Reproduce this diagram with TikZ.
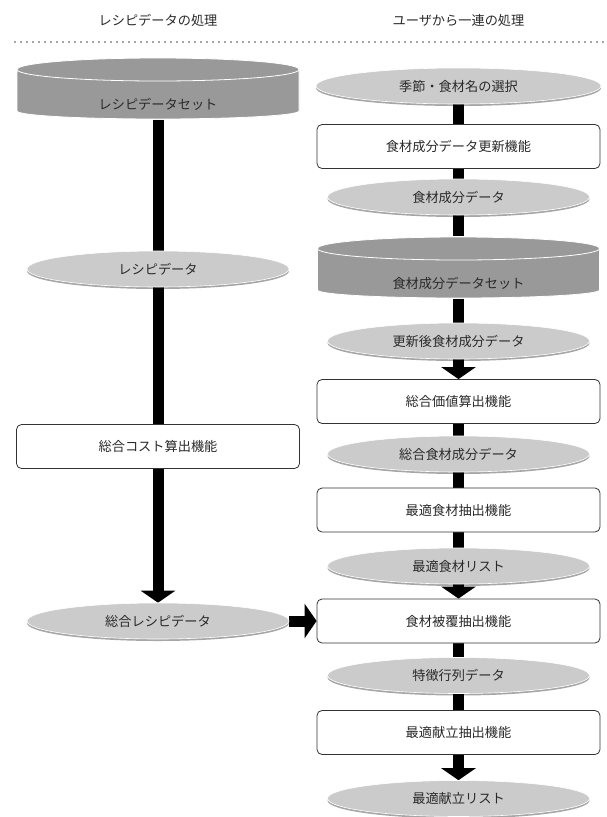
\documentclass[tikz,border=0pt]{standalone}
\usepackage{fontspec}
\newfontfamily\jpfont{Noto Sans CJK JP}
\usepackage{tikz}
\usetikzlibrary{shapes.geometric}
\usetikzlibrary{arrows.meta}
\usetikzlibrary{backgrounds}
\usetikzlibrary{shadows}
\usetikzlibrary{calc}
\definecolor{ellgray}{HTML}{CBCBCB}
\definecolor{dbgray}{HTML}{999999}
\definecolor{txtgray}{HTML}{2A2A2A}

\begin{document}
\begin{tikzpicture}[x=1pt,y=1pt,
 every node/.style={font=\jpfont\fontsize{13.2}{16}\selectfont,text=txtgray},
 proc/.style={rectangle,rounded corners=5pt,draw=black!80,line width=0.8pt,fill=white,
   minimum width=283pt,minimum height=44pt,inner sep=0pt},
 dat/.style={ellipse,fill=ellgray,draw=white,line width=0.6pt,minimum width=262pt,
   minimum height=36pt,inner sep=0pt,
   drop shadow={shadow xshift=0pt,shadow yshift=-2pt,opacity=0.35,fill=black}},
 dbset/.style={minimum width=283pt,minimum height=62pt,inner sep=0pt,
   text height=43pt,text depth=2pt,
   path picture={
    \filldraw[fill=dbgray,draw=white,line width=0.8pt]
     let \p1=(path picture bounding box.north west),\p2=(path picture bounding box.south east),
         \n1={(\x2-\x1)/2-0.5} in
     (\x1+0.5pt,\y1-12pt) -- (\x1+0.5pt,\y2+8.5pt)
     arc[start angle=180,end angle=360,x radius=\n1,y radius=8pt]
     -- (\x2-0.5pt,\y1-12pt) arc[start angle=0,end angle=180,x radius=\n1,y radius=11.5pt]
     -- cycle
     ([yshift=-12pt]path picture bounding box.north) ellipse[x radius=\n1,y radius=11.5pt];
   }},
 flow/.style={line width=11pt},
 flowhead/.style={line width=11pt,-{Triangle[width=34pt,length=12pt]}}]
\useasboundingbox (0,0) rectangle (607,-817);

\node (lhead) at (158,-20) {レシピデータの処理};
\node (rhead) at (458.5,-20) {ユーザから一連の処理};
\draw[black!70,line width=1.7pt,line cap=round,dash pattern=on 0pt off 6pt] (15,-42) -- (605,-42);

\node[dbset] (lset) at (158,-88.5) {レシピデータセット};
\node[dat] (ldata) at (158,-269) {レシピデータ};
\node[proc] (lcost) at (158,-446.5) {総合コスト算出機能};
\node[dat] (lsum) at (158,-621) {総合レシピデータ};

\node[dat,minimum width=285pt] (rsel) at (458.5,-86) {季節・食材名の選択};
\node[proc] (rupd) at (458.5,-146.5) {食材成分データ更新機能};
\node[dat] (rdata) at (458.5,-197) {食材成分データ};
\node[dbset] (rset) at (458.5,-267.5) {食材成分データセット};
\node[dat] (rnew) at (458.5,-341) {更新後食材成分データ};
\node[proc] (rval) at (458.5,-401.5) {総合価値算出機能};
\node[dat] (rsum) at (458.5,-454) {総合食材成分データ};
\node[proc] (rext) at (458.5,-510) {最適食材抽出機能};
\node[dat] (rlist) at (458.5,-566) {最適食材リスト};
\node[proc] (rcov) at (458.5,-621) {食材被覆抽出機能};
\node[dat] (rmat) at (458.5,-675.5) {特徴行列データ};
\node[proc] (rmenu) at (458.5,-732.5) {最適献立抽出機能};
\node[dat] (rout) at (458.5,-798.5) {最適献立リスト};

\begin{scope}[on background layer]
\draw[flow] (lset) -- (ldata);
\draw[flow] (ldata) -- (lcost);
\draw[flowhead] (lcost) -- (lsum);
\draw[flowhead] (lsum) -- (rcov);
\draw[flow] (rsel) -- (rupd);
\draw[flow] (rupd) -- (rdata);
\draw[flow] (rdata) -- (rset);
\draw[flow] (rset) -- (rnew);
\draw[flowhead] (rnew) -- (rval);
\draw[flow] (rval) -- (rsum);
\draw[flow] (rsum) -- (rext);
\draw[flow] (rext) -- (rlist);
\draw[flowhead] (rlist) -- (rcov);
\draw[flow] (rcov) -- (rmat);
\draw[flow] (rmat) -- (rmenu);
\draw[flowhead] (rmenu) -- (rout);
\end{scope}
\end{tikzpicture}
\end{document}
